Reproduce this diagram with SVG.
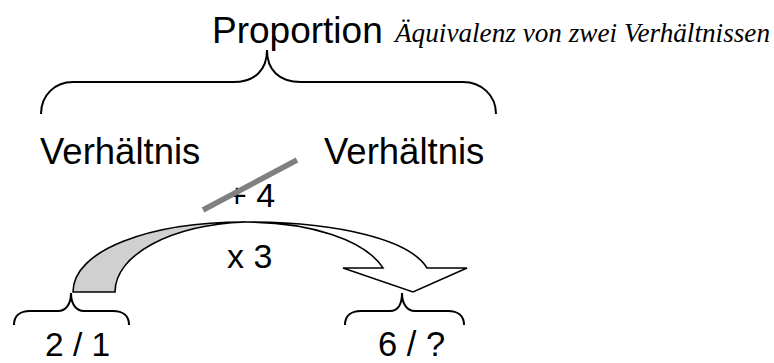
<svg xmlns="http://www.w3.org/2000/svg" width="774" height="363" viewBox="0 0 774 363">
<style>
.brace{fill:none;stroke:#000;stroke-width:2}
.sans{font-family:"Liberation Sans",Arial,sans-serif;fill:#000}
.ital{font-family:"Liberation Serif","Times New Roman",serif;font-style:italic;fill:#000}
.arrow{stroke:#000;stroke-width:1.6;stroke-linejoin:miter}
</style>
<rect width="774" height="363" fill="#fff"/>
<g id="title">
<text class="sans" x="212" y="43" font-size="37">Proportion</text>
<text class="ital" x="395" y="42" font-size="27" textLength="375" lengthAdjust="spacingAndGlyphs">Äquivalenz von zwei Verhältnissen</text>
</g>
<g id="brace-top"><path class="brace" d="M41,114 C41,95 55,82 73,82 L233,82 C255,82 267,70 267,50 C267,70 279,82 301,82 L463,82 C481,82 496,95 496,114"/></g>
<g id="ratio-left"><text class="sans" x="40" y="164" font-size="36.5">Verhältnis</text></g>
<g id="ratio-right"><text class="sans" x="324" y="164" font-size="36.5">Verhältnis</text></g>
<g id="plus4">
<text class="sans" x="227" y="207" font-size="34">+ 4</text>
<line x1="203" y1="210" x2="297" y2="160" stroke="#808080" stroke-width="5.5"/>
</g>
<g id="connectors">
<path class="arrow" fill="#d0d0d0" d="M73,292 C73,250 150,222 245,222 C170,225 115,255 115,292 Z"/>
<path class="arrow" fill="#fff" d="M245,222 C340,222 410,240 427,268 L467,268 L413,292 L343,268 L383,268 C365,240 310,222 245,222 Z"/>
</g>
<g id="times3"><text class="sans" x="227" y="268" font-size="34">x 3</text></g>
<g id="brace-left"><path class="brace" d="M14,325 C14,316 20,311 30,311 L58,311 C66,311 71,304 71,293 C71,304 76,311 84,311 L113,311 C123,311 129,316 129,325"/></g>
<g id="brace-right"><path class="brace" d="M345,325 C345,316 351,311 361,311 L390,311 C398,311 402,304 402,293 C402,304 407,311 415,311 L448,311 C458,311 464,316 464,325"/></g>
<g id="value-left"><text class="sans" x="45" y="356" font-size="33.5">2 / 1</text></g>
<g id="value-right"><text class="sans" x="378" y="356" font-size="34.5">6 / ?</text></g>
</svg>
